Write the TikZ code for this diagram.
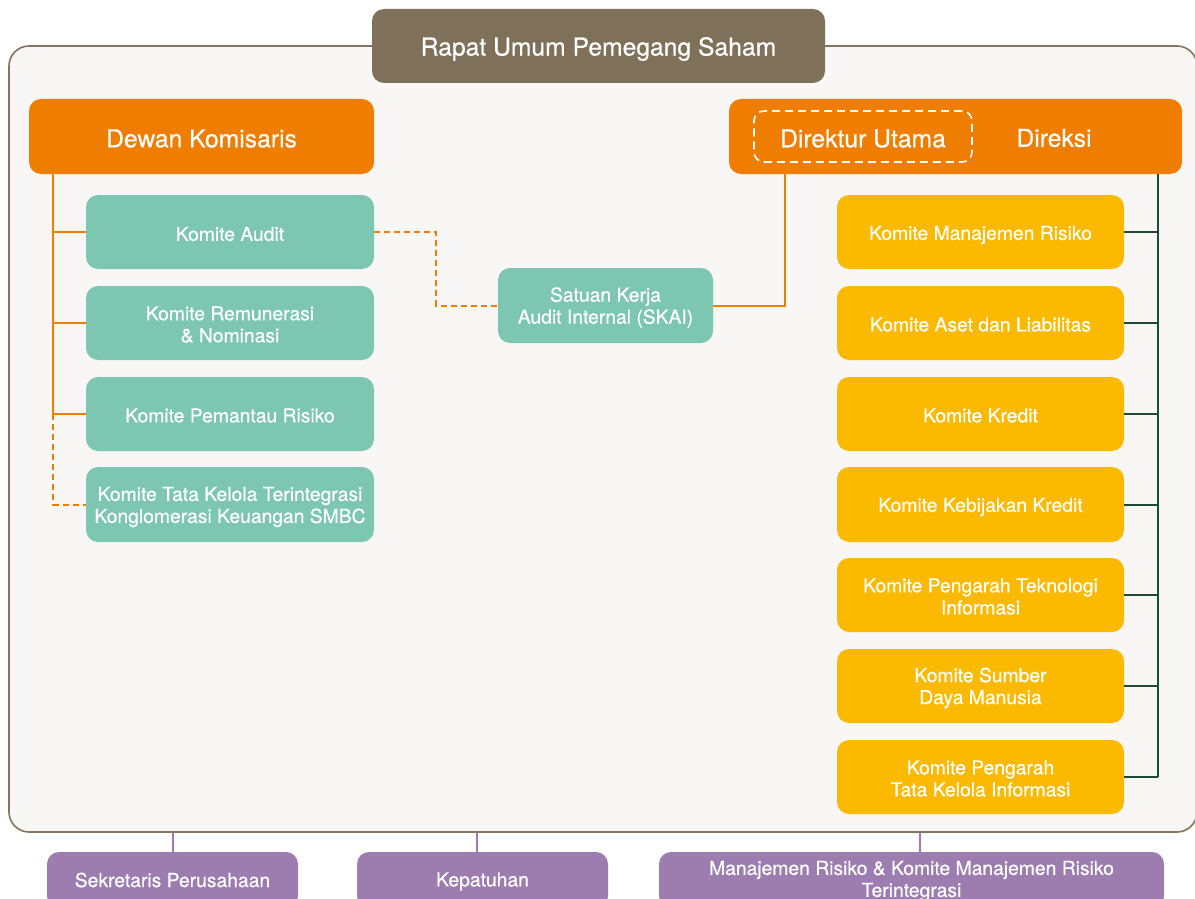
\documentclass[tikz,border=0pt]{standalone}
\usepackage{fontspec}
\setmainfont{TeX Gyre Heros}[FakeBold=0.5]
\usetikzlibrary{calc}

\definecolor{panelfill}{HTML}{F8F7F5}
\definecolor{panelline}{HTML}{857560}
\definecolor{rupsc}{HTML}{7F705A}
\definecolor{orangec}{HTML}{EF7D00}
\definecolor{tealc}{HTML}{7CC6B2}
\definecolor{yellowc}{HTML}{FBBA00}
\definecolor{purplec}{HTML}{9D7DAF}
\definecolor{greenc}{HTML}{1E4A36}

\tikzset{
  box/.style={rounded corners=12pt, inner sep=0pt},
  txt/.style={text=white, align=center, inner sep=0pt,
    font=\fontsize{19.3}{22}\selectfont},
  bigtxt/.style={txt, font=\fontsize{24.7}{28}\selectfont},
  headbox/.style={box, fill=orangec, minimum height=75pt},
  tealbox/.style={box, fill=tealc, minimum width=288pt, minimum height=74pt},
  yellowbox/.style={box, fill=yellowc, minimum width=287pt, minimum height=74pt},
  purplebox/.style={box, fill=purplec, minimum height=56pt},
  orangeline/.style={draw=orangec, line width=2pt},
  orangedash/.style={draw=orangec, line width=2pt, dash pattern=on 6pt off 4pt},
  greenline/.style={draw=greenc, line width=2pt},
  purpleline/.style={draw=purplec, line width=2pt},
}
% box label: text set slightly below the geometric centre of its box
\newcommand{\boxtext}[4][txt]{\node[#1] (#2-t) at ([yshift=-#3pt]#2.center) {#4};}

\begin{document}
\begin{tikzpicture}[x=1pt,y=-1pt]
  \clip (0,0) rectangle (1195,899);
  \fill[white] (0,0) rectangle (1195,899);

  % outer panel holding both boards
  \node[draw=panelline, line width=1.6pt, fill=panelfill, rounded corners=20pt,
        minimum width=1188pt, minimum height=786pt, inner sep=0pt]
        (panel) at (603,439) {};

  % general meeting of shareholders
  \node[box, fill=rupsc, minimum width=453pt, minimum height=74pt] (rups) at (598.5,46) {};
  \boxtext[bigtxt]{rups}{3}{Rapat Umum Pemegang Saham}

  % boards
  \node[headbox, minimum width=345pt] (dk) at (201.5,136.5) {};
  \boxtext[bigtxt]{dk}{2}{Dewan Komisaris}
  \node[headbox, minimum width=453pt] (dir) at (955.5,136.5) {};
  \node[draw=white, line width=1.6pt, dash pattern=on 8pt off 5pt, rounded corners=10pt,
        minimum width=218pt, minimum height=51pt, inner sep=0pt] (dirut) at (863,136.5) {};
  \node[bigtxt] (dirut-t) at ([yshift=-2pt]dirut.center) {Direktur Utama};
  \node[bigtxt] (direksi) at (1054,138) {Direksi};

  % committees of the board of commissioners
  \node[tealbox] (audit) at (230,232) {};
  \boxtext{audit}{2}{Komite Audit}
  \node[tealbox] (rem) at (230,323) {};
  \boxtext{rem}{1.5}{Komite Remunerasi\\\& Nominasi}
  \node[tealbox] (pem) at (230,414) {};
  \boxtext{pem}{1.5}{Komite Pemantau Risiko}
  \node[tealbox, minimum height=75pt] (tata) at (230,504.5) {};
  \boxtext{tata}{2.5}{Komite Tata Kelola Terintegrasi\\Konglomerasi Keuangan SMBC}

  % internal audit unit
  \node[tealbox, minimum width=215pt, minimum height=75pt] (skai) at (605.5,305.5) {};
  \boxtext{skai}{2}{Satuan Kerja\\Audit Internal (SKAI)}

  % committees of the board of directors
  \node[yellowbox] (y1) at (980.5,232) {};
  \boxtext{y1}{3}{Komite Manajemen Risiko}
  \node[yellowbox] (y2) at (980.5,323) {};
  \boxtext{y2}{1.5}{Komite Aset dan Liabilitas}
  \node[yellowbox] (y3) at (980.5,414) {};
  \boxtext{y3}{1.5}{Komite Kredit}
  \node[yellowbox, minimum height=75pt] (y4) at (980.5,504.5) {};
  \boxtext{y4}{2.5}{Komite Kebijakan Kredit}
  \node[yellowbox] (y5) at (980.5,595) {};
  \boxtext{y5}{1.5}{Komite Pengarah Teknologi\\Informasi}
  \node[yellowbox] (y6) at (980.5,686) {};
  \boxtext{y6}{2}{Komite Sumber\\Daya Manusia}
  \node[yellowbox] (y7) at (980.5,777) {};
  \boxtext{y7}{1.5}{Komite Pengarah\\Tata Kelola Informasi}

  % supporting functions
  \node[purplebox, minimum width=251pt] (sek) at (172.5,880) {};
  \boxtext{sek}{0}{Sekretaris Perusahaan}
  \node[purplebox, minimum width=251pt] (kep) at (482.5,880) {};
  \boxtext{kep}{1.5}{Kepatuhan}
  \node[purplebox, minimum width=505pt] (mr) at (911.5,880) {};
  \boxtext{mr}{1}{Manajemen Risiko \& Komite Manajemen Risiko\\Terintegrasi}

  % trunk positions
  \coordinate (lx) at (53,0);
  \coordinate (mx) at (436,0);
  \coordinate (ux) at (785,0);
  \coordinate (rx) at (1158,0);

  % commissioners' trunk
  \draw[orangeline] (dk.south -| lx) -- (pem.west -| lx);
  \foreach \c in {audit,rem,pem} \draw[orangeline] (\c.west -| lx) -- (\c.west);
  \draw[orangedash] (pem.west -| lx) -- (tata.west -| lx) -- (tata.west);

  % audit committee to SKAI
  \draw[orangedash] (audit.east) -- (audit.east -| mx) -- (skai.west -| mx) -- (skai.west);

  % president director to SKAI
  \draw[orangeline] (dir.south -| ux) -- (skai.east -| ux) -- (skai.east);

  % directors' trunk
  \draw[greenline] (dir.south -| rx) -- (y7.east -| rx);
  \foreach \c in {y1,y2,y3,y4,y5,y6,y7} \draw[greenline] (\c.east) -- (\c.east -| rx);

  % supporting functions below the panel
  \draw[purpleline] (sek.north) -- (sek.north |- panel.south);
  \draw[purpleline] ([xshift=-6pt]kep.north) -- ([xshift=-6pt]kep.north |- panel.south);
  \draw[purpleline] ([xshift=8.5pt]mr.north) -- ([xshift=8.5pt]mr.north |- panel.south);
\end{tikzpicture}
\end{document}
